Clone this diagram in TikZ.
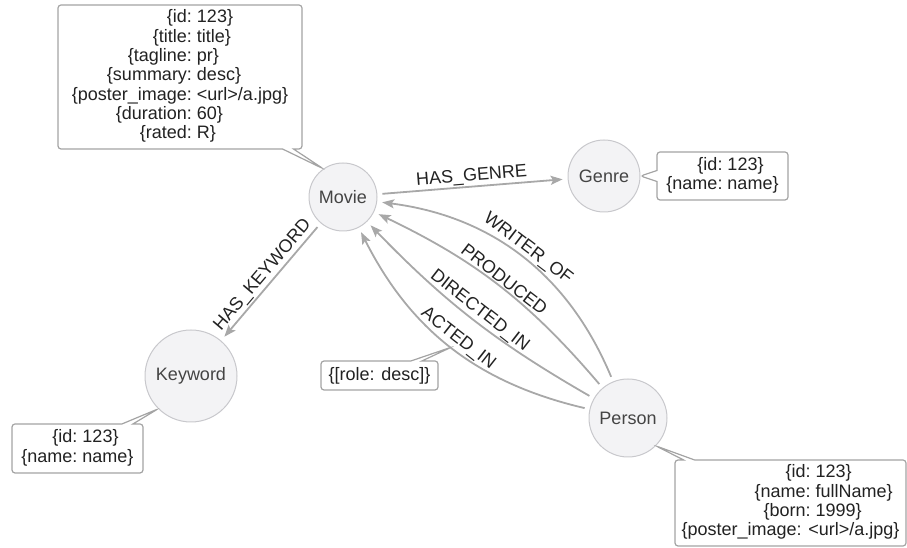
\documentclass[tikz,border=0pt]{standalone}
\usepackage{fontspec}
\setmainfont{Liberation Sans}
\usepackage{tikz}
\usetikzlibrary{arrows.meta, shapes.callouts, positioning}
\definecolor{nodefill}{HTML}{F3F3F5}
\definecolor{nodeline}{HTML}{C8C8CC}
\definecolor{relline}{HTML}{A8A8A8}
\definecolor{boxline}{HTML}{A4A4A4}
\definecolor{labeltext}{HTML}{444444}
\definecolor{proptext}{HTML}{222222}
\newcommand{\propfont}{\fontsize{18}{19.3}\selectfont}

\begin{document}
\begin{tikzpicture}[x=1pt, y=1pt,
  entity/.style={circle, draw=nodeline, fill=nodefill, line width=1pt, text=labeltext, font=\propfont, inner sep=0pt},
  props/.style={rectangle callout, draw=boxline, fill=white, line width=1.2pt, rounded corners=3pt, callout pointer width=11pt, text=proptext, font=\propfont, inner sep=0pt},
  rel/.style={draw=relline, line width=1.8pt, -{Stealth[length=12pt,width=9pt,inset=2.5pt]}, shorten >=5pt, shorten <=5pt},
  rellabel/.style={font=\propfont, text=proptext, sloped, above, inner sep=1.5pt}]
\useasboundingbox (0,0) rectangle (907,548);

\node[entity, minimum size=68pt] (movie) at (343,351) {Movie};
\node[entity, minimum size=72pt] (genre) at (604,372) {Genre};
\node[entity, minimum size=92pt] (keyword) at (191,172) {Keyword};
\node[entity, minimum size=78pt] (person) at (628,130) {Person};

\draw[rel] (movie) -- node[rellabel] {HAS\_GENRE} (genre);
\draw[rel] (movie) -- node[rellabel] {HAS\_KEYWORD} (keyword);
\draw[rel] (person) to[bend right=30] node[rellabel] {WRITER\_OF} (movie);
\draw[rel] (person) to[bend right=12] node[rellabel] {PRODUCED} (movie);
\draw[rel] (person) to[bend left=8] node[rellabel] {DIRECTED\_IN} (movie);
\draw[rel] (person) to[bend left=25] node[rellabel] {ACTED\_IN} coordinate[pos=0.5] (actedmid) (movie);

\node[props, minimum width=244pt, minimum height=144pt, callout absolute pointer={(movie.125)}] (movieprops) at (180,471) {\begin{tabular}{@{}r@{:\ }l@{}}
\{id & 123\}\\ \{title & title\}\\ \{tagline & pr\}\\ \{summary & desc\}\\ \{poster\_image & <url>/a.jpg\}\\ \{duration & 60\}\\ \{rated & R\}
\end{tabular}};
\node[props, minimum width=131pt, minimum height=48pt, callout absolute pointer={(genre.east)}] (genreprops) at (722.5,372) {\begin{tabular}{@{}r@{:\ }l@{}}
\{id & 123\}\\ \{name & name\}
\end{tabular}};
\node[props, minimum width=131pt, minimum height=49pt, callout absolute pointer={(keyword.225)}] (keywordprops) at (77.5,99.5) {\begin{tabular}{@{}r@{:\ }l@{}}
\{id & 123\}\\ \{name & name\}
\end{tabular}};
\node[props, minimum width=231pt, minimum height=86pt, callout absolute pointer={(person.-45)}] (personprops) at (790.5,45) {\begin{tabular}{@{}r@{:\ }l@{}}
\makebox[124pt][r]{\{id} & 123\}\\ \{name & fullName\}\\ \{born & 1999\}\\ \multicolumn{2}{@{}l@{}}{\{poster\_image: <url>/a.jpg\}}
\end{tabular}};
\node[props, minimum width=117pt, minimum height=29pt, callout absolute pointer={(actedmid)}] (roleprops) at (379.5,172.5) {\{[role: desc]\}};
\end{tikzpicture}
\end{document}
